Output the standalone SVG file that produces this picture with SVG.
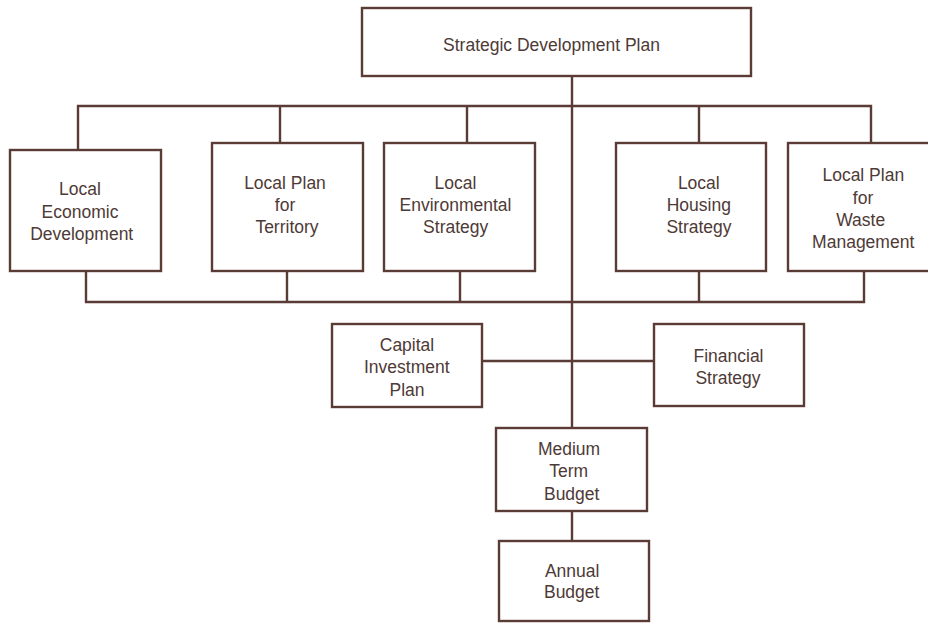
<svg xmlns="http://www.w3.org/2000/svg" width="928" height="624" viewBox="0 0 928 624">
<style>
.box{fill:#fff;stroke:#5a3b36;stroke-width:2.4}
.ln{fill:none;stroke:#5a3b36;stroke-width:2.4}
text{font-family:"Liberation Sans",Arial,sans-serif;font-size:17.5px;fill:#4e3a36;text-anchor:middle}
</style>
<rect width="928" height="624" fill="#fff"/>
<g id="connectors">
<path class="ln" d="M572 76V428"/>
<path class="ln" d="M78 150V106H871V143"/>
<path class="ln" d="M280 106V143M467 106V143M699 106V143"/>
<path class="ln" d="M86 271V302H864V271"/>
<path class="ln" d="M287 271V302M460 271V302M699 271V302"/>
<path class="ln" d="M482 361H654"/>
<path class="ln" d="M572 511V541"/>
</g>
<g id="sdp"><rect class="box" x="362" y="8" width="389" height="68"/><text x="551.5" y="51">Strategic Development Plan</text></g>
<g id="led"><rect class="box" x="10" y="150" width="151" height="121"/><text x="80" y="195">Local</text><text x="80" y="217.7">Economic</text><text x="81.7" y="240">Development</text></g>
<g id="lpt"><rect class="box" x="212" y="143" width="151" height="128"/><text x="285" y="189.3">Local Plan</text><text x="285" y="211">for</text><text x="287" y="233.3">Territory</text></g>
<g id="les"><rect class="box" x="384" y="143" width="151" height="128"/><text x="455.5" y="188.7">Local</text><text x="455.5" y="211">Environmental</text><text x="455.7" y="233.3">Strategy</text></g>
<g id="lhs"><rect class="box" x="616" y="143" width="150" height="128"/><text x="698.8" y="189">Local</text><text x="698.8" y="211">Housing</text><text x="699" y="233.3">Strategy</text></g>
<g id="lpwm"><rect class="box" x="788" y="143" width="145" height="128"/><text x="863.3" y="181.3">Local Plan</text><text x="863" y="203.7">for</text><text x="860.7" y="226">Waste</text><text x="863.2" y="248.3">Management</text></g>
<g id="cip"><rect class="box" x="332" y="324" width="150" height="83"/><text x="407" y="351">Capital</text><text x="406.8" y="373.3">Investment</text><text x="407" y="395.7">Plan</text></g>
<g id="fs"><rect class="box" x="654" y="324" width="150" height="82"/><text x="728.5" y="361.7">Financial</text><text x="728" y="384.3">Strategy</text></g>
<g id="mtb"><rect class="box" x="496" y="428" width="151" height="83"/><text x="569" y="455">Medium</text><text x="568.7" y="477">Term</text><text x="571.7" y="499.7">Budget</text></g>
<g id="ab"><rect class="box" x="499" y="541" width="150" height="80"/><text x="572.2" y="576.7">Annual</text><text x="571.7" y="598.3">Budget</text></g>
</svg>
